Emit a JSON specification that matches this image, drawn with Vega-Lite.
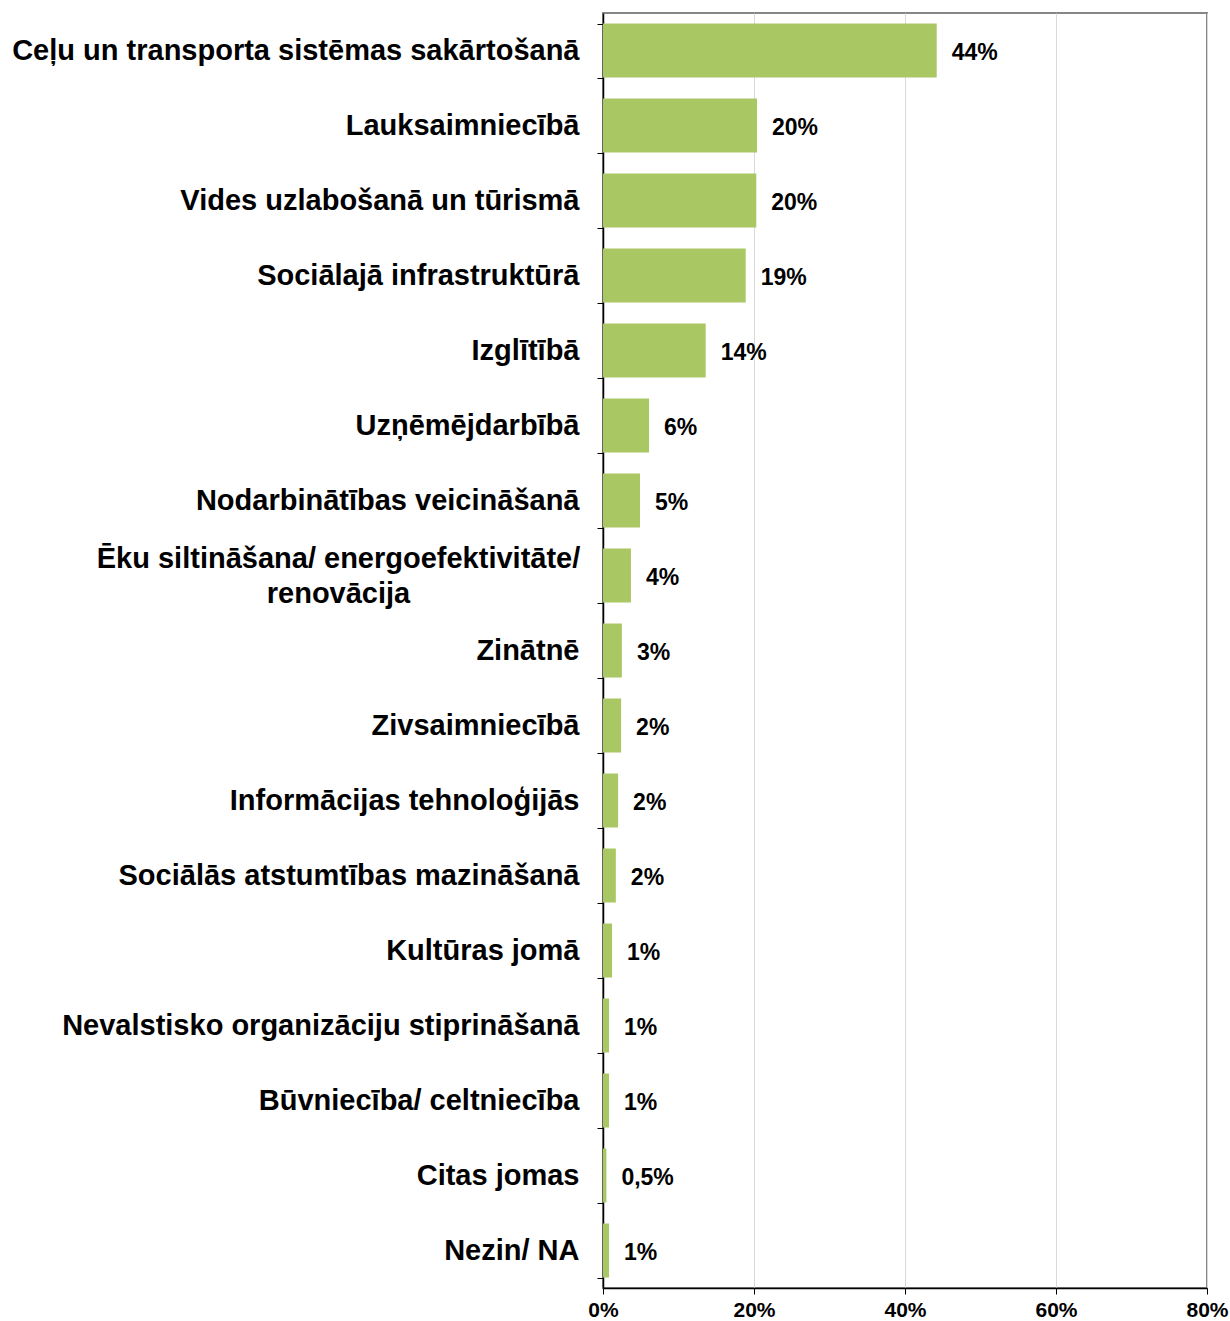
{
  "$schema": "https://vega.github.io/schema/vega-lite/v6.json",
  "autosize": {"type": "none"},
  "width": 604,
  "height": 1275,
  "padding": {"left": 603, "top": 13, "right": 23, "bottom": 33},
  "background": "white",
  "config": {
    "view": {"stroke": "#868686", "strokeWidth": 2},
    "font": "Liberation Sans"
  },
  "data": {
    "values": [
      {"joma": "Ceļu un transporta sistēmas sakārtošanā", "vertiba": 44.2, "teksts": "44%"},
      {"joma": "Lauksaimniecībā", "vertiba": 20.4, "teksts": "20%"},
      {"joma": "Vides uzlabošanā un tūrismā", "vertiba": 20.3, "teksts": "20%"},
      {"joma": "Sociālajā infrastruktūrā", "vertiba": 18.9, "teksts": "19%"},
      {"joma": "Izglītībā", "vertiba": 13.6, "teksts": "14%"},
      {"joma": "Uzņēmējdarbībā", "vertiba": 6.1, "teksts": "6%"},
      {"joma": "Nodarbinātības veicināšanā", "vertiba": 4.9, "teksts": "5%"},
      {"joma": "Ēku siltināšana/ energoefektivitāte/ renovācija", "vertiba": 3.7, "teksts": "4%"},
      {"joma": "Zinātnē", "vertiba": 2.5, "teksts": "3%"},
      {"joma": "Zivsaimniecībā", "vertiba": 2.4, "teksts": "2%"},
      {"joma": "Informācijas tehnoloģijās", "vertiba": 2.0, "teksts": "2%"},
      {"joma": "Sociālās atstumtības mazināšanā", "vertiba": 1.7, "teksts": "2%"},
      {"joma": "Kultūras jomā", "vertiba": 1.2, "teksts": "1%"},
      {"joma": "Nevalstisko organizāciju stiprināšanā", "vertiba": 0.8, "teksts": "1%"},
      {"joma": "Būvniecība/ celtniecība", "vertiba": 0.8, "teksts": "1%"},
      {"joma": "Citas jomas", "vertiba": 0.45, "teksts": "0,5%"},
      {"joma": "Nezin/ NA", "vertiba": 0.8, "teksts": "1%"}
    ]
  },
  "encoding": {
    "y": {
      "field": "joma",
      "type": "nominal",
      "sort": null,
      "scale": {"paddingInner": 0.28, "paddingOuter": 0.14},
      "axis": {
        "title": null,
        "domainColor": "#000000",
        "domainWidth": 1.5,
        "tickColor": "#000000",
        "tickBand": "extent",
        "tickSize": 6,
        "labelFont": "Liberation Sans",
        "labelFontWeight": "bold",
        "labelFontSize": 29,
        "labelColor": "#000000",
        "labelLimit": 800,
        "labelLineHeight": 35,
        "labelExpr": "datum.value == 'Ēku siltināšana/ energoefektivitāte/ renovācija' ? ['Ēku siltināšana/ energoefektivitāte/', 'renovācija'] : datum.value",
        "labelAlign": {"condition": {"test": "datum.value == 'Ēku siltināšana/ energoefektivitāte/ renovācija'", "value": "center"}, "value": "right"},
        "labelPadding": {"condition": {"test": "datum.value == 'Ēku siltināšana/ energoefektivitāte/ renovācija'", "value": 259}, "value": 18},
        "labelOffset": {"condition": {"test": "datum.value == 'Ēku siltināšana/ energoefektivitāte/ renovācija'", "value": -17}, "value": 0}
      }
    }
  },
  "layer": [
    {
      "mark": {"type": "bar", "color": "#A9C864"},
      "encoding": {
        "x": {
          "field": "vertiba",
          "type": "quantitative",
          "scale": {"domain": [0, 80], "nice": false},
          "axis": {
            "title": null,
            "values": [0, 20, 40, 60, 80],
            "labelExpr": "datum.value + '%'",
            "labelFlush": false,
            "domainColor": "#000000",
            "domainWidth": 1.5,
            "tickColor": "#000000",
            "tickSize": 6,
            "grid": true,
            "gridColor": "#d9d9d9",
            "gridWidth": 1,
            "labelFont": "Liberation Sans",
            "labelFontWeight": "bold",
            "labelFontSize": 21,
            "labelColor": "#000000",
            "labelPadding": 5
          }
        }
      }
    },
    {
      "mark": {"type": "text", "align": "left", "baseline": "middle", "dx": 15, "dy": 2, "font": "Liberation Sans", "fontWeight": "bold", "fontSize": 23, "color": "#000000"},
      "encoding": {
        "x": {"field": "vertiba", "type": "quantitative"},
        "text": {"field": "teksts"}
      }
    }
  ]
}
